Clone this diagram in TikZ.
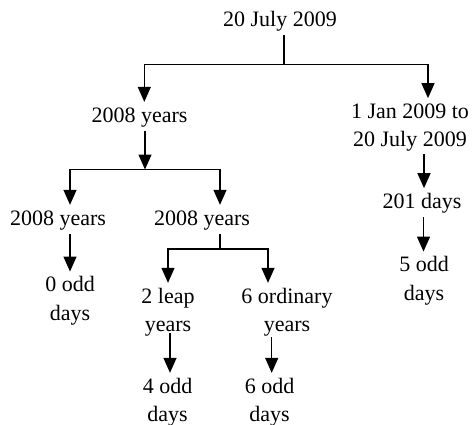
\documentclass[tikz,border=0pt]{standalone}
\usepackage{fontspec}
\setmainfont{Liberation Serif}
\usetikzlibrary{arrows.meta}
\newcommand{\mytab}[1]{\begin{tabular}[t]{@{}c@{}}#1\end{tabular}}
\begin{document}
\begin{tikzpicture}[x=1pt,y=-1pt,
  lbl/.style={inner sep=0pt, anchor=base, font=\fontsize{22}{28.5}\selectfont},
  ln/.style={line width=1.3pt},
  arr/.style={ln, -{Triangle[length=15pt,width=13pt]}}]
\useasboundingbox (0,0) rectangle (476,425);
% nodes
\node[lbl] (top)  at (280,26.7)  {\mytab{20 July 2009}};
\node[lbl] (y1)   at (139.5,122) {\mytab{2008 years}};
\node[lbl] (jan)  at (410,118.3) {\mytab{1 Jan 2009 to\\20 July 2009}};
\node[lbl] (d201) at (422,208.3) {\mytab{201 days}};
\node[lbl] (odd5) at (424,271.7) {\mytab{5 odd\\days}};
\node[lbl] (yL)   at (58,225)    {\mytab{2008 years}};
\node[lbl] (yR)   at (202,225)   {\mytab{2008 years}};
\node[lbl] (odd0) at (70,291.7)  {\mytab{0 odd\\days}};
\node[lbl] (leap) at (168,303)   {\mytab{2 leap\\years}};
\node[lbl] (ord)  at (287,303)   {\mytab{6 ordinary\\years}};
\node[lbl] (odd4) at (167.5,393) {\mytab{4 odd\\days}};
\node[lbl] (odd6) at (269.5,393) {\mytab{6 odd\\days}};
% junction coordinates
\coordinate (j1)  at (284,64.3);
\coordinate (j1L) at (144.3,64.3);
\coordinate (j1R) at (428,64.3);
\coordinate (j2)  at (145,169.5);
\coordinate (j2L) at (70,169.5);
\coordinate (j2R) at (220,169.5);
\coordinate (j3)  at (220,249);
\coordinate (j3L) at (168,249);
\coordinate (j3R) at (268,249);
\coordinate (xA)  at (70,0);
\coordinate (xB)  at (170,0);
\coordinate (xC)  at (271.7,0);
\coordinate (xD)  at (424,0);
\coordinate (xE)  at (423.5,0);
% connectors
\draw[ln] (top.south -| j1) -- (j1);
\draw[arr] (j1) -| (y1.north -| j1L);
\draw[arr] (j1) -| (jan.north -| j1R);
\draw[arr] (y1.south -| j2) -- (j2);
\draw[arr] (j2) -| (yL.north -| j2L);
\draw[arr] (j2) -| (yR.north -| j2R);
\draw[ln] (yR.south -| j3) -- (j3);
\draw[arr] (j3) -| (leap.north -| j3L);
\draw[arr] (j3) -| (ord.north -| j3R);
\draw[arr] (yL.south -| xA) -- (odd0.north -| xA);
\draw[arr, shorten <=-7pt] (leap.south -| xB) -- (odd4.north -| xB);
\draw[arr, shorten <=-3pt] (ord.south -| xC) -- (odd6.north -| xC);
\draw[arr, shorten <=-2pt] (jan.south -| xD) -- (d201.north -| xD);
\draw[arr] (d201.south -| xE) -- (odd5.north -| xE);
\end{tikzpicture}
\end{document}
